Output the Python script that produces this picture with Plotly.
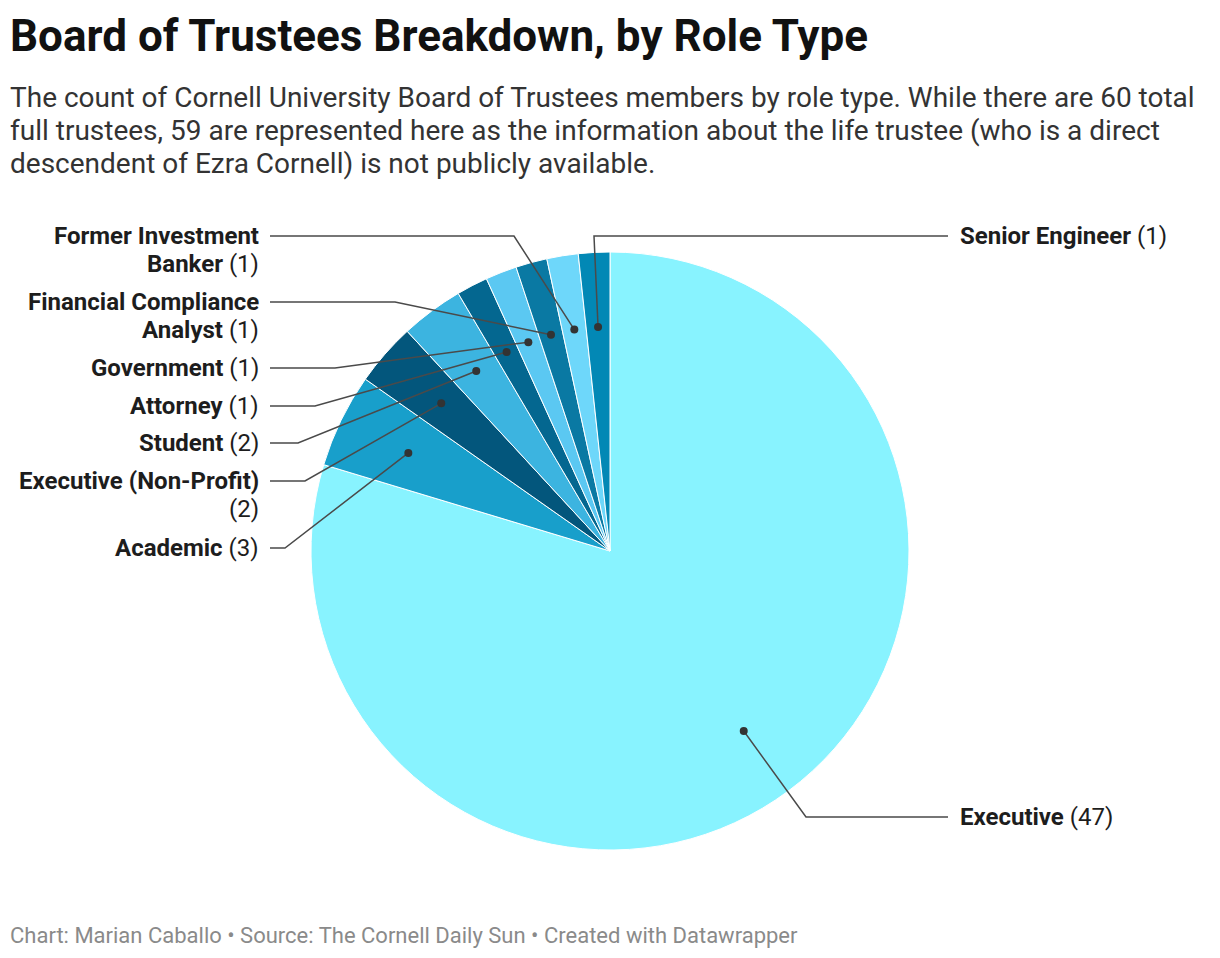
import math
import plotly.graph_objects as go

roles = ["Executive", "Academic", "Executive (Non-Profit)", "Student", "Attorney",
         "Government", "Financial Compliance Analyst", "Former Investment Banker",
         "Senior Engineer"]
counts = [47, 3, 2, 2, 1, 1, 1, 1, 1]
colors = ["#88f3ff", "#189fcb", "#03567c", "#3cb4e0", "#046790",
          "#5bc8f2", "#0a79a3", "#6ed7fa", "#0288b5"]
label_lines = [
    ["<b>Executive</b> (47)"],
    ["<b>Academic</b> (3)"],
    ["<b>Executive (Non-Profit)</b>", "(2)"],
    ["<b>Student</b> (2)"],
    ["<b>Attorney</b> (1)"],
    ["<b>Government</b> (1)"],
    ["<b>Financial Compliance</b>", "<b>Analyst</b> (1)"],
    ["<b>Former Investment</b>", "<b>Banker</b> (1)"],
    ["<b>Senior Engineer</b> (1)"],
]
title = "Board of Trustees Breakdown, by Role Type"
subtitle_lines = [
    "The count of Cornell University Board of Trustees members by role type. While there are 60 total",
    "full trustees, 59 are represented here as the information about the life trustee (who is a direct",
    "descendent of Ezra Cornell) is not publicly available.",
]
footer = "Chart: Marian Caballo • Source: The Cornell Daily Sun • Created with Datawrapper"

OFF = 8  # page body margin
W, H = 1220 - 2 * OFF, 958 - 2 * OFF
CX, CY, R = 610, 551, 299

# label layout (pixels in reference): side, first line center y, elbow x
label_layout = [
    ("right", 817, 806),
    ("left", 548, 285),
    ("left", 481, 305),
    ("left", 443, 298),
    ("left", 406, 315),
    ("left", 368, 335),
    ("left", 302, 395),
    ("left", 236, 514),
    ("right", 236, 594),
]

def px(x):
    return (x - OFF) / W

def py(y):
    return 1 - (y - OFF) / H

fig = go.Figure(go.Pie(
    labels=roles, values=counts, sort=False, direction="clockwise", rotation=0,
    marker=dict(colors=colors, line=dict(color="white", width=1)),
    textinfo="none", hoverinfo="label+value", showlegend=False,
    domain=dict(x=[px(CX - R), px(CX + R)], y=[py(CY + R), py(CY - R)]),
))

shapes = []
annotations = []
total = sum(counts)
cum = 0
for i, v in enumerate(counts):
    mid = (cum + v / 2) / total * 2 * math.pi
    cum += v
    dx = CX + 0.75 * R * math.sin(mid)
    dy = CY - 0.75 * R * math.cos(mid)
    side, ly, ex = label_layout[i]
    if side == "left":
        x_end, xt, anchor = 270, 261, "right"
    else:
        x_end, xt, anchor = 948, 958, "left"
    path = f"M {px(dx)} {py(dy)} L {px(ex)} {py(ly)} L {px(x_end)} {py(ly)}"
    shapes.append(dict(type="path", path=path, xref="paper", yref="paper",
                       line=dict(color="#4a4a4a", width=1.5)))
    shapes.append(dict(type="circle", xref="paper", yref="paper",
                       x0=px(dx - 4), x1=px(dx + 4), y0=py(dy + 4), y1=py(dy - 4),
                       fillcolor="#333333", line=dict(width=0)))
    for j, line in enumerate(label_lines[i]):
        annotations.append(dict(
            text=line, x=px(xt), y=py(ly + 28 * j), xref="paper", yref="paper",
            xanchor=anchor, yanchor="middle", showarrow=False,
            font=dict(family="Roboto", size=24, color="#1d1d1d"),
        ))

annotations.append(dict(
    text=f"<b>{title}</b>",
    x=px(8), y=py(36), xref="paper", yref="paper", xanchor="left", yanchor="middle",
    showarrow=False, font=dict(family="Roboto", size=44, color="#111111")))
for j, line in enumerate(subtitle_lines):
    annotations.append(dict(
        text=line, x=px(8), y=py(98 + 33 * j), xref="paper", yref="paper",
        xanchor="left", yanchor="middle", showarrow=False,
        font=dict(family="Roboto", size=28, color="#333333")))
annotations.append(dict(
    text=footer,
    x=px(8), y=py(935), xref="paper", yref="paper", xanchor="left", yanchor="middle",
    showarrow=False, font=dict(family="Roboto", size=22, color="#8a8a8a")))

fig.update_layout(
    width=W, height=H, margin=dict(l=0, r=0, t=0, b=0),
    paper_bgcolor="white", plot_bgcolor="white",
    shapes=shapes, annotations=annotations,
)
fig.write_html("out.html")
